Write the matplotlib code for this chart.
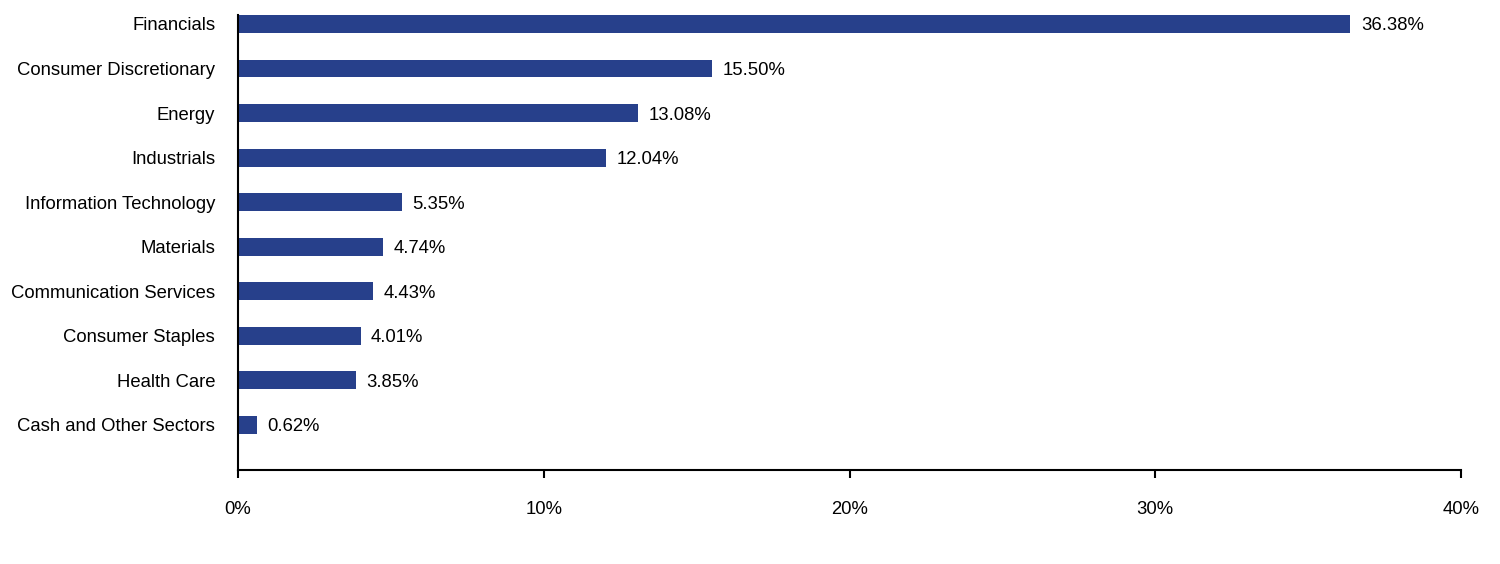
import matplotlib
matplotlib.use("Agg")
import matplotlib.pyplot as plt

plt.rcParams["font.family"] = ["Liberation Sans", "DejaVu Sans"]

SECTORS = ["Financials", "Consumer Discretionary", "Energy", "Industrials",
           "Information Technology", "Materials", "Communication Services",
           "Consumer Staples", "Health Care", "Cash and Other Sectors"]
WEIGHTS = [36.38, 15.50, 13.08, 12.04, 5.35, 4.74, 4.43, 4.01, 3.85, 0.62]
XTICKS = [0, 10, 20, 30, 40]
BAR = "#27408b"
FS = 13.3

fig = plt.figure(figsize=(15, 5.64), dpi=100)
ax = fig.add_axes([0.1587, 0.1667, 0.9740 - 0.1587, 0.9734 - 0.1667])

pos = list(range(len(SECTORS)))
ax.barh(pos, WEIGHTS, height=0.40, color=BAR)
for y, v in zip(pos, WEIGHTS):
    ax.annotate(f"{v:.2f}%", (v, y), xytext=(7.5, 0), textcoords="offset points",
                va="center_baseline", ha="left", fontsize=FS)

ax.set_xlim(0, 40)
ax.set_ylim(len(SECTORS) - 1 + 1.01, -0.2)
ax.set_xticks(XTICKS)
ax.set_xticklabels([f"{t}%" for t in XTICKS])
ax.set_yticks(pos)
ax.set_yticklabels(SECTORS)

for s in ("top", "right"):
    ax.spines[s].set_visible(False)
for s in ("left", "bottom"):
    ax.spines[s].set_linewidth(1.5)
    ax.spines[s].set_color("black")
ax.tick_params(axis="x", length=6, width=1.5, pad=16, labelsize=FS)
ax.tick_params(axis="y", length=0, pad=16.5, labelsize=FS)

fig.savefig("out.png", dpi=100)
